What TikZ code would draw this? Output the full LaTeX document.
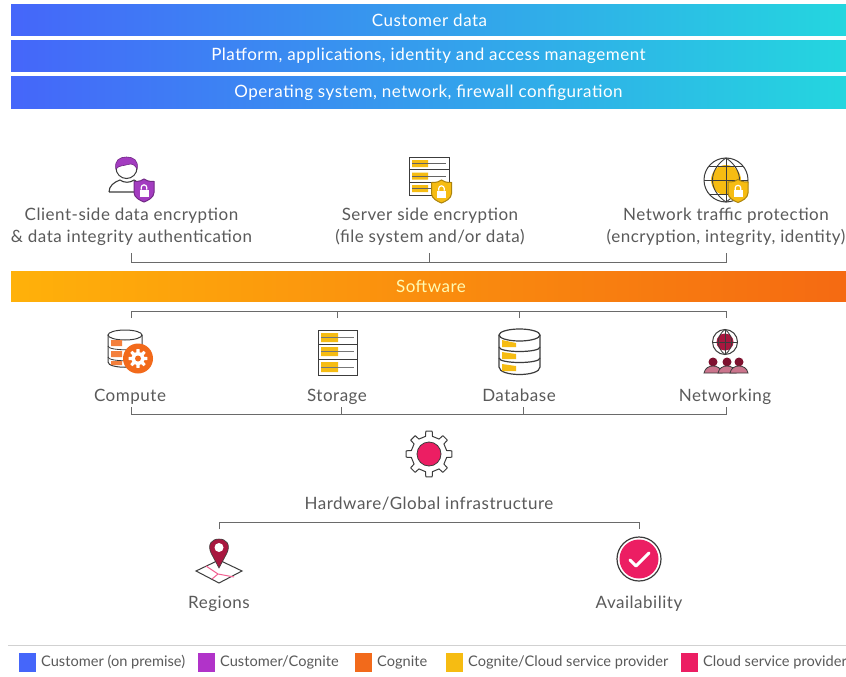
\documentclass[tikz,border=0pt]{standalone}
\usepackage{fontspec}
\setmainfont{Lato}
\newfontfamily\widefont[LetterSpace=3]{Lato}
\definecolor{txt}{HTML}{5A5A5A}
\definecolor{linec}{HTML}{6A6A6A}
\definecolor{ink}{HTML}{3C3C3C}
\definecolor{cblue}{HTML}{4566FA}
\definecolor{cmid}{HTML}{2AA6F2}
\definecolor{ccyan}{HTML}{24D6DF}
\definecolor{cpurple}{HTML}{A33CC0}
\definecolor{corange}{HTML}{F26A1B}
\definecolor{cyellow}{HTML}{F6BC12}
\definecolor{cpink}{HTML}{EC1E63}
\definecolor{cmaroon}{HTML}{A8173F}
\definecolor{softl}{HTML}{FFB10A}
\definecolor{softm}{HTML}{FF9000}
\definecolor{softr}{HTML}{F56A12}
\tikzset{
 bluebar/.style={minimum width=835pt,minimum height=31pt,inner sep=0pt,left color=cblue,middle color=cmid,right color=ccyan,text=white,font=\widefont\fontsize{17}{20}\selectfont},
 softbar/.style={minimum width=835pt,minimum height=30pt,inner sep=0pt,left color=softl,middle color=softm,right color=softr,text=white!70!yellow,font=\widefont\fontsize{17}{20}\selectfont},
 label/.style={text=txt,align=center,inner sep=0pt,font=\widefont\fontsize{17}{22}\selectfont},
 oneline/.style={label,anchor=base},
 legtext/.style={text=txt,anchor=west,inner sep=0pt,font=\fontsize{14.6}{17}\selectfont},
 swatch/.style={minimum width=17pt,minimum height=19pt,inner sep=0pt,anchor=west},
 bracket/.style={draw=linec,line width=0.9pt},
 icon/.style={draw=ink,line width=1pt},
}
\newcommand{\shieldlock}[4]{% x, y, fill, edge
 \begin{scope}[shift={(#1,#2)}]
  \path[fill=#3,draw=#4,line width=1pt] (-10,-9) .. controls (-4,-9) and (-2,-10) .. (0,-11.5) .. controls (2,-10) and (4,-9) .. (10,-9) -- (10,2) .. controls (10,7) and (4,10) .. (0,11.5) .. controls (-4,10) and (-10,7) .. (-10,2) -- cycle;
  \fill[white] (-4.5,-1) rectangle (4.5,6);
  \draw[white,line width=1.2pt] (-2.8,-1) -- (-2.8,-3) .. controls (-2.8,-6.5) and (2.8,-6.5) .. (2.8,-3) -- (2.8,-1);
 \end{scope}}
\begin{document}
\begin{tikzpicture}[x=1pt,y=-1pt]
\useasboundingbox[fill=white] (0,0) rectangle (846,677);
% top bars
\node[bluebar] (b1) at (428.5,20.5) {\hspace*{2pt}\raisebox{1.5pt}{Customer data}};
\node[bluebar] (b2) at (428.5,56) {Platform, applications, identity and access management};
\node[bluebar] (b3) at (428.5,92.5) {Operating system, network, firewall configuration};
% labels
\node[label] (client) at (131.5,226.5) {Client-side data encryption\\\& data integrity authentication};
\node[label] (server) at (430,226.5) {Server side encryption\\(file system and/or data)};
\node[label] (net) at (726,226.5) {Network traffic protection\\(encryption, integrity, identity)};
\node[softbar] (soft) at (428.5,286) {\hspace*{5pt}Software};
\node[oneline] (compute) at (130,401.5) {Compute};
\node[oneline] (storage) at (337,401.5) {Storage};
\node[oneline] (database) at (519,401.5) {Database};
\node[oneline] (networking) at (725,401.5) {Networking};
\node[oneline] (hardware) at (429,509.5) {Hardware/Global infrastructure};
\node[oneline] (regions) at (219,608.5) {Regions};
\node[oneline] (avail) at (639,608.5) {Availability};
% bracket coordinates
\coordinate (a1) at (131,253); \coordinate (a2) at (429,253); \coordinate (a3) at (726,253);
\coordinate (c1) at (131,318); \coordinate (c2) at (337,318); \coordinate (c3) at (519,318); \coordinate (c4) at (726,318);
\coordinate (d1) at (131,407); \coordinate (d2) at (341,407); \coordinate (d3) at (523,407); \coordinate (d4) at (726,407);
\coordinate (e1) at (219,529); \coordinate (e2) at (639,529);
\coordinate (ya) at (0,262); \coordinate (yc) at (0,311); \coordinate (yd) at (0,414); \coordinate (ye) at (0,522);
\draw[bracket] (a1) -- (a1 |- ya) -- (a3 |- ya) -- (a3); \draw[bracket] (a2) -- (a2 |- ya);
\draw[bracket] (c1) -- (c1 |- yc) -- (c4 |- yc) -- (c4); \draw[bracket] (c2) -- (c2 |- yc); \draw[bracket] (c3) -- (c3 |- yc);
\draw[bracket] (d1) -- (d1 |- yd) -- (d4 |- yd) -- (d4); \draw[bracket] (d2) -- (d2 |- yd); \draw[bracket] (d3) -- (d3 |- yd);
\draw[bracket] (e1) -- (e1 |- ye) -- (e2 |- ye) -- (e2);
% person icon
\draw[icon,line width=1.1pt] (109,192) .. controls (109,186) and (114,182) .. (120,180) .. controls (124,183) and (130,183) .. (134,180) -- (136,181) (109,192) -- (134,192);
\draw[icon,fill=white] (126.5,168) circle (10.5pt);
\path[fill=cpurple,draw=cpurple!70!black,line width=.6pt] (116,169) .. controls (114,160) and (120,157) .. (126.5,157) .. controls (133,157) and (139,160) .. (137,169) .. controls (135,165) and (132,163) .. (128,164.5) .. controls (124,166) and (119,165) .. (116,169) -- cycle;
\shieldlock{144}{190.5}{cpurple}{cpurple!70!black}
% server icon
\draw[icon,fill=white] (409,157) rectangle (449,195);
\draw[icon] (409,169.5) -- (449,169.5) (409,182) -- (449,182);
\fill[cyellow] (412,160) rectangle (428,167) (412,172.5) rectangle (428,179.5) (412,185) rectangle (428,192);
\draw[ink!80,line width=.8pt] (412,163.5) -- (446,163.5) (412,176) -- (446,176) (412,188.5) -- (446,188.5);
\shieldlock{441.5}{191.5}{cyellow}{cyellow!70!black}
% globe icon
\draw[icon] (726,180) circle (22pt);
\fill[cyellow] (726,180) circle (15pt);
\draw[icon,line width=.9pt] (704,180) -- (748,180) (726,158) -- (726,202) (709,166) -- (743,166) (709,194) -- (743,194);
\draw[icon,line width=.9pt] (726,158) .. controls (708,170) and (708,190) .. (726,202) .. controls (744,190) and (744,170) .. (726,158);
\shieldlock{738}{191}{cyellow}{cyellow!70!black}
% compute icon
\draw[icon] (108,335) -- (108,362) .. controls (108,369) and (142,369) .. (142,362) -- (142,335);
\draw[icon,fill=white] (125,335) ellipse [x radius=17pt,y radius=5pt];
\draw[icon,line width=.8pt] (108,346) .. controls (108,351) and (142,351) .. (142,346) (108,357) .. controls (108,362) and (142,362) .. (142,357);
\fill[corange!85] (111,340) rectangle (122,346) (111,351) rectangle (122,357) (111,361) rectangle (122,365);
\begin{scope}[shift={(138,358.5)}]
 \fill[corange] (0,0) circle (15pt);
 \fill[white] (-8.5:6.5) \foreach \a in {0,45,...,315}{ -- (\a-15:6.5) -- (\a-9:9.5) -- (\a+9:9.5) -- (\a+15:6.5) } -- cycle;
 \fill[corange] (0,0) circle (3pt);
\end{scope}
% storage icon
\draw[icon,fill=white] (318,330) rectangle (357,375);
\draw[icon] (318,344) -- (357,344) (318,359) -- (357,359);
\fill[cyellow] (321,333) rectangle (338,342) (321,347) rectangle (338,356) (321,362) rectangle (338,372);
\draw[ink!70,line width=.8pt] (321,337.5) -- (354,337.5) (321,351.5) -- (354,351.5) (321,367) -- (354,367);
% database icon
\draw[icon,line width=1.2pt] (499,335) -- (499,367) .. controls (499,377) and (540,377) .. (540,367) -- (540,335);
\draw[icon,line width=1.2pt,fill=white] (519.5,335) ellipse [x radius=20.5pt,y radius=6pt];
\draw[icon,line width=1.2pt] (499,347) .. controls (499,353) and (540,353) .. (540,347) (499,358) .. controls (499,364) and (540,364) .. (540,358);
\fill[cyellow] (502,340) -- (516,343) -- (516,347) -- (502,347) -- cycle (502,352) -- (516,354) -- (516,359) -- (502,359) -- cycle (502,364) -- (516,366) -- (516,371) -- (502,371) -- cycle;
% networking icon
\draw[icon] (725,342) circle (12.5pt);
\fill[cmaroon] (725,342) circle (8.5pt);
\draw[ink,line width=.8pt] (712.5,342) -- (737.5,342) (725,329.5) -- (725,354.5);
\draw[ink,line width=.8pt] (725,329.5) .. controls (716,336) and (716,348) .. (725,354.5) .. controls (734,348) and (734,336) .. (725,329.5);
\foreach \hx in {713,727,739}{
 \fill[cmaroon!75!black] (\hx,362) circle (4.5pt);
 \path[fill=cmaroon!60!white,draw=ink,line width=.8pt] (\hx-9,373) .. controls (\hx-8,368) and (\hx-4,366) .. (\hx,366) .. controls (\hx+4,366) and (\hx+8,368) .. (\hx+9,373) -- cycle;
}
% hardware gear
\begin{scope}[shift={(429,454)}]
 \draw[ink,line width=1pt,line join=round] (-11:18) \foreach \a in {0,45,...,315}{ -- (\a-11:18) -- (\a-8:23) -- (\a+8:23) -- (\a+11:18) } -- cycle;
 \path[fill=cpink,draw=ink,line width=.8pt] (0,0) circle (12pt);
\end{scope}
% regions icon
\draw[icon,line width=1pt] (196,571) -- (219,560) -- (242,571) -- (219,583) -- cycle;
\draw[cpink!70,line width=1pt] (206,566) -- (218,574) -- (234,577) (218,574) -- (212,579);
\path[fill=cmaroon,draw=ink,line width=.6pt] (219,568) -- (211,553) .. controls (207,544) and (212,539) .. (219,539) .. controls (226,539) and (231,544) .. (227,553) -- cycle;
\fill[white] (219,547.5) circle (4.5pt);
% availability icon
\draw[icon,line width=1.2pt,fill=white] (639,559) circle (22pt);
\fill[cpink] (639,559) circle (19.5pt);
\draw[white,line width=3pt,line cap=round,line join=round] (630,560) -- (636,566) -- (649,553);
% legend
\coordinate (l1) at (8,645); \coordinate (l2) at (846,645);
\draw[black!18,line width=.8pt] (l1) -- (l2);
\node[swatch,fill=cblue] (s1) at (19,662.5) {};
\node[legtext] (t1) at (41,662.5) {Customer (on premise)};
\node[swatch,fill=cpurple!85!magenta] (s2) at (198,662.5) {};
\node[legtext] (t2) at (220,662.5) {Customer/Cognite};
\node[swatch,fill=corange] (s3) at (355,662.5) {};
\node[legtext] (t3) at (377,662.5) {Cognite};
\node[swatch,fill=cyellow] (s4) at (446,662.5) {};
\node[legtext] (t4) at (468,662.5) {Cognite/Cloud service provider};
\node[swatch,fill=cpink] (s5) at (681,662.5) {};
\node[legtext] (t5) at (703,662.5) {Cloud service provider};
\end{tikzpicture}
\end{document}
